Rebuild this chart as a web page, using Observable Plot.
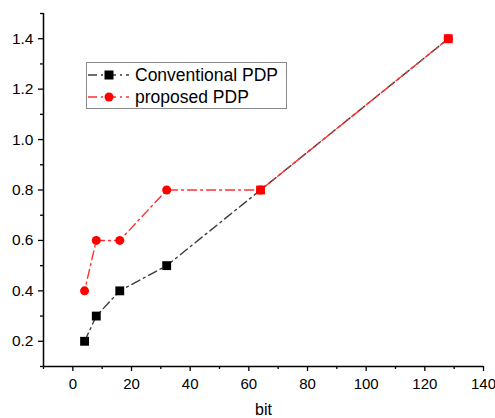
<!DOCTYPE html>
<html>
<head>
<meta charset="utf-8">
<script src="https://cdn.jsdelivr.net/npm/d3@7"></script>
<script src="https://cdn.jsdelivr.net/npm/@observablehq/plot@0.6"></script>
<style>
  html, body { margin: 0; padding: 0; background: #fff; }
  #wrap { position: relative; width: 495px; height: 418px; font-family: "Liberation Sans", Arial, sans-serif; }
  #legend { position: absolute; left: 86px; top: 62px; width: 201px; height: 47px; border: 1px solid #8a8a8a; background: #fff; box-sizing: border-box; }
  .row { position: absolute; left: 0; height: 22px; display: flex; align-items: center; }
  .row span { font-size: 17.5px; color: #000; margin-left: 5px; white-space: nowrap; }
</style>
</head>
<body>
<div id="wrap"></div>
<script>
const bits = [4, 8, 16, 32, 64, 128];
const conventional = [0.2, 0.3, 0.4, 0.5, 0.8, 1.4];
const proposed = [0.4, 0.6, 0.6, 0.8, 0.8, 1.4];
const seriesNames = ["Conventional PDP", "proposed PDP"];
const xMajor = [0, 20, 40, 60, 80, 100, 120, 140];
const xMinor = [-10, 10, 30, 50, 70, 90, 110, 130];
const yMajor = [0.2, 0.4, 0.6, 0.8, 1.0, 1.2, 1.4];
const yMinor = [0.1, 0.3, 0.5, 0.7, 0.9, 1.1, 1.3, 1.5];

const convData = bits.map((b, i) => ({x: b, y: conventional[i], shared: conventional[i] === proposed[i]}));
const propData = bits.map((b, i) => ({x: b, y: proposed[i]}));

const grayLine = "#3c3c3c";
const redLine = "#ff3030";
const dash = "9,4,2,4";

const chart = Plot.plot({
  width: 495,
  height: 418,
  marginLeft: 43,
  marginRight: 12,
  marginTop: 13,
  marginBottom: 52,
  style: {fontFamily: "Liberation Sans, Arial, sans-serif", color: "#000", background: "#fff"},
  x: {domain: [-10, 140]},
  y: {domain: [0.1, 1.5]},
  marks: [
    Plot.axisX(xMajor, {tickSize: 5, tickPadding: 7, fontSize: 15, label: null, stroke: "#000", strokeWidth: 1.3}),
    Plot.axisX(xMinor, {tickSize: 3, tickFormat: () => "", label: null, stroke: "#000", strokeWidth: 1.3}),
    Plot.axisY(yMajor, {tickSize: 5, tickPadding: 5, fontSize: 15.5, tickFormat: d => d.toFixed(1), label: null, stroke: "#000", strokeWidth: 1.3}),
    Plot.axisY(yMinor, {tickSize: 3, tickFormat: () => "", label: null, stroke: "#000", strokeWidth: 1.3}),
    Plot.ruleX([-10], {stroke: "#000", strokeWidth: 1.5}),
    Plot.ruleY([0.1], {stroke: "#000", strokeWidth: 1.5}),
    Plot.text(["bit"], {frameAnchor: "bottom", dy: 48, fontSize: 16, fill: "#000"}),
    Plot.line(convData, {x: "x", y: "y", stroke: grayLine, strokeWidth: 1.4, strokeDasharray: dash}),
    Plot.line(propData, {x: "x", y: "y", stroke: redLine, strokeWidth: 1.4, strokeDasharray: dash, strokeDashoffset: 6}),
    Plot.dot(convData, {x: "x", y: "y", symbol: "square", r: 5, fill: d => d.shared ? "#ff0000" : "#000", stroke: null}),
    Plot.dot(propData, {x: "x", y: "y", symbol: "circle", r: 4.5, fill: "#ff0000", stroke: null})
  ]
});

const wrap = document.getElementById("wrap");
wrap.appendChild(chart);

const legend = document.createElement("div");
legend.id = "legend";
const samples = [
  {name: seriesNames[0], color: grayLine, fill: "#000", shape: "square"},
  {name: seriesNames[1], color: redLine, fill: "#ff0000", shape: "circle"}
];
samples.forEach((s, i) => {
  const row = document.createElement("div");
  row.className = "row";
  row.style.top = (1 + i * 22) + "px";
  const marker = s.shape === "square"
    ? `<rect x="17.5" y="6.5" width="9" height="9" fill="${s.fill}"/>`
    : `<circle cx="22" cy="11" r="4.5" fill="${s.fill}"/>`;
  row.innerHTML = `<svg width="43" height="22"><line x1="1" y1="11" x2="42" y2="11" stroke="${s.color}" stroke-width="1.4" stroke-dasharray="${dash}"/>${marker}</svg><span>${s.name}</span>`;
  legend.appendChild(row);
});
wrap.appendChild(legend);
</script>
</body>
</html>
